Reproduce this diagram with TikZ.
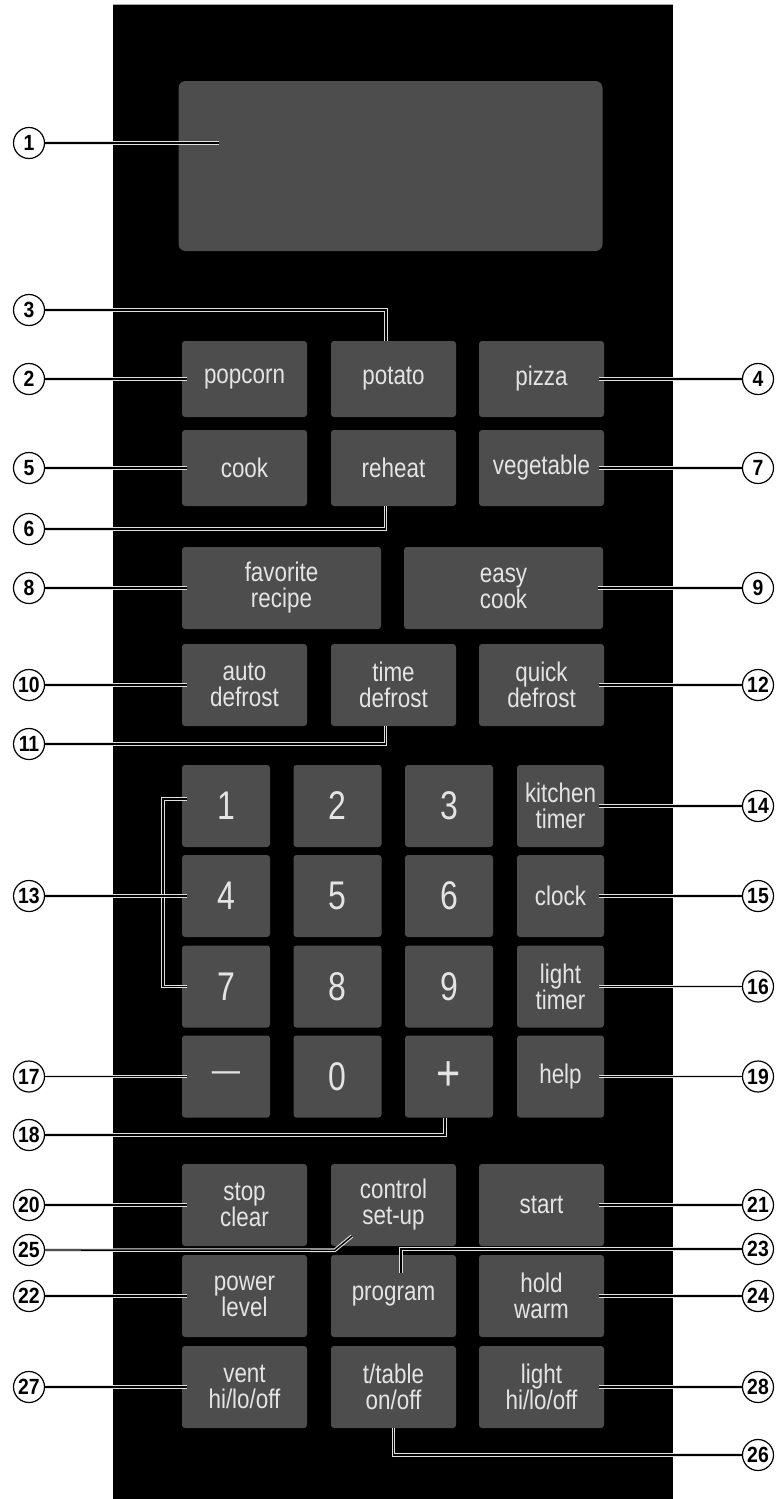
\documentclass[tikz,border=0pt]{standalone}
\usepackage{fontspec}
\usetikzlibrary{shapes,backgrounds,calc}
\newfontfamily\keyfamily[FakeStretch=0.83]{Liberation Sans}
\newfontfamily\digitfamily[FakeStretch=0.8]{Liberation Sans}
\newfontfamily\callfamily[FakeStretch=0.88]{Liberation Sans}
\definecolor{keygray}{HTML}{4D4D4D}
\definecolor{keytext}{HTML}{E4E4E4}
\definecolor{leadgray}{HTML}{E0E0E0}

\begin{document}
\begin{tikzpicture}[x=1pt,y=-1pt,
  key node/.style={rectangle,rounded corners=3pt,fill=keygray,text=keytext,inner sep=0pt,
    minimum width=125pt,minimum height=82pt,align=center,
    font=\keyfamily\fontsize{27}{26}\selectfont},
  short/.style={minimum height=76pt},
  wide/.style={minimum width=199pt},
  digit node/.style={key node,minimum width=88pt,font=\digitfamily\fontsize{40}{40}\selectfont},
  call node/.style={circle,draw=black,line width=1.2pt,fill=white,inner sep=0pt,minimum size=31pt,
    font=\callfamily\bfseries\fontsize{22}{22}\selectfont},
  leader/.style={draw=leadgray,line width=1.1pt,double=black,double distance=1.4pt},
  into/.style={shorten >=-5pt}]

  \useasboundingbox (0,0) rectangle (779,1499);
  \fill[black] (113,4) rectangle (673,1499);
  \draw[gray!70,line width=1pt] (113,4) -- (673,4);

  % display
  \node[rectangle,rounded corners=7pt,fill=keygray,minimum width=424pt,minimum height=170pt] (display) at (390.5,166) {};

  % cooking keys
  \node[key node,short] (popcorn) at (244.5,379) {popcorn};
  \node[key node,short] (potato) at (393.5,379) {potato};
  \node[key node,short] (pizza) at (541.5,379) {pizza};
  \node[key node,short] (cook) at (244.5,468) {cook};
  \node[key node,short] (reheat) at (393.5,468) {reheat};
  \node[key node,short] (vegetable) at (541.5,468) {vegetable};
  \node[key node,wide] (favorite) at (281.5,588) {favorite\\recipe};
  \node[key node,wide] (easycook) at (503.5,588) {easy\\cook};
  \node[key node] (autodef) at (244.5,685) {auto\\defrost};
  \node[key node] (timedef) at (393.5,685) {time\\defrost};
  \node[key node] (quickdef) at (541.5,685) {quick\\defrost};

  % number pad
  \node[digit node] (one) at (226,806) {1};
  \node[digit node] (two) at (337.5,806) {2};
  \node[digit node] (three) at (449,806) {3};
  \node[key node,minimum width=87pt] (kitchen) at (560.5,806) {kitchen\\timer};
  \node[digit node] (four) at (226,896) {4};
  \node[digit node] (five) at (337.5,896) {5};
  \node[digit node] (six) at (449,896) {6};
  \node[key node,minimum width=87pt] (clock) at (560.5,896) {clock};
  \node[digit node] (seven) at (226,986.5) {7};
  \node[digit node] (eight) at (337.5,986.5) {8};
  \node[digit node] (nine) at (449,986.5) {9};
  \node[key node,minimum width=87pt] (lighttimer) at (560.5,986.5) {light\\timer};
  \node[digit node,font=\keyfamily\fontsize{34}{34}\selectfont] (minus) at (226,1076.5) {—};
  \node[digit node] (zero) at (337.5,1076.5) {0};
  \node[digit node,font=\keyfamily\fontsize{50}{50}\selectfont] (plus) at (449,1076.5) {+};
  \node[key node,minimum width=87pt] (help) at (560.5,1076.5) {help};

  % control keys
  \node[key node] (stopclear) at (244.5,1205) {stop\\clear};
  \node[key node] (ctrl) at (393.5,1205) {control\\set-up};
  \node[key node] (start) at (541.5,1205) {start};
  \node[key node] (power) at (244.5,1296) {power\\level};
  \node[key node] (program) at (393.5,1296) {program};
  \node[key node] (hold) at (541.5,1296) {hold\\warm};
  \node[key node] (vent) at (244.5,1387) {vent\\hi/lo/off};
  \node[key node] (ttable) at (393.5,1387) {t/table\\on/off};
  \node[key node] (light) at (541.5,1387) {light\\hi/lo/off};

  % callouts, left
  \node[call node] (c1) at (29,143) {1};
  \node[call node] (c3) at (29,310) {3};
  \node[call node] (c2) at (29,379) {2};
  \node[call node] (c5) at (29,468) {5};
  \node[call node] (c6) at (29,529) {6};
  \node[call node] (c8) at (29,588) {8};
  \node[call node] (c10) at (29,685) {10};
  \node[call node] (c11) at (29,744) {11};
  \node[call node] (c13) at (29,896) {13};
  \node[call node] (c17) at (29,1076.5) {17};
  \node[call node] (c18) at (29,1135) {18};
  \node[call node] (c20) at (29,1205) {20};
  \node[call node] (c25) at (29,1250) {25};
  \node[call node] (c22) at (29,1296) {22};
  \node[call node] (c27) at (29,1387) {27};
  % callouts, right
  \node[call node] (c4) at (758,379) {4};
  \node[call node] (c7) at (758,468) {7};
  \node[call node] (c9) at (758,588) {9};
  \node[call node] (c12) at (758,685) {12};
  \node[call node] (c14) at (758,806) {14};
  \node[call node] (c15) at (758,896) {15};
  \node[call node] (c16) at (758,986.5) {16};
  \node[call node] (c19) at (758,1076.5) {19};
  \node[call node] (c21) at (758,1205) {21};
  \node[call node] (c23) at (758,1249) {23};
  \node[call node] (c24) at (758,1296) {24};
  \node[call node] (c28) at (758,1387) {28};
  \node[call node] (c26) at (758,1455) {26};

  \coordinate (brk) at (163,896);

  % leaders
  \draw[leader,shorten >=-41pt] (c1) -- (display.west |- c1);
  \draw[leader] (c3) -| ([xshift=-7.5pt]potato.north);
  \draw[leader,into] (c2) -- (popcorn.west);
  \draw[leader,into] (c4) -- (pizza.east);
  \draw[leader,into] (c5) -- (cook.west);
  \draw[leader] (c6) -| ([xshift=-8pt]reheat.south);
  \draw[leader,into] (c7) -- (vegetable.east);
  \draw[leader,into] (c8) -- (favorite.west);
  \draw[leader,into] (c9) -- (easycook.east);
  \draw[leader,into] (c10) -- (autodef.west);
  \draw[leader] (c11) -| ([xshift=-8pt]timedef.south);
  \draw[leader,into] (c12) -- (quickdef.east);
  \draw[leader] ([xshift=5pt,yshift=7pt]one.west) -| (brk) |- ([xshift=5pt]seven.west);
  \draw[leader,into] (c13) -- (four.west);
  \draw[leader,into] (c14) -- (kitchen.east);
  \draw[leader,into] (c15) -- (clock.east);
  \draw[leader,into] (c16) -- (lighttimer.east);
  \draw[leader,into] (c17) -- (minus.west);
  \draw[leader] (c18) -| ([xshift=-4pt]plus.south);
  \draw[leader,into] (c19) -- (help.east);
  \draw[leader,into] (c20) -- (stopclear.west);
  \draw[leader,into] (c21) -- (start.east);
  \draw[leader] (c25) -- ($(ctrl.south west)+(4,4)$) -- ($(ctrl.south west)+(21,-10)$);
  \draw[leader] (c23) -| ($(program.north)+(7.5,18)$);
  \draw[leader,into] (c22) -- (power.west);
  \draw[leader,into] (c24) -- (hold.east);
  \draw[leader,into] (c27) -- (vent.west);
  \draw[leader,into] (c28) -- (light.east);
  \draw[leader] (c26) -| (ttable.south);
\end{tikzpicture}
\end{document}
